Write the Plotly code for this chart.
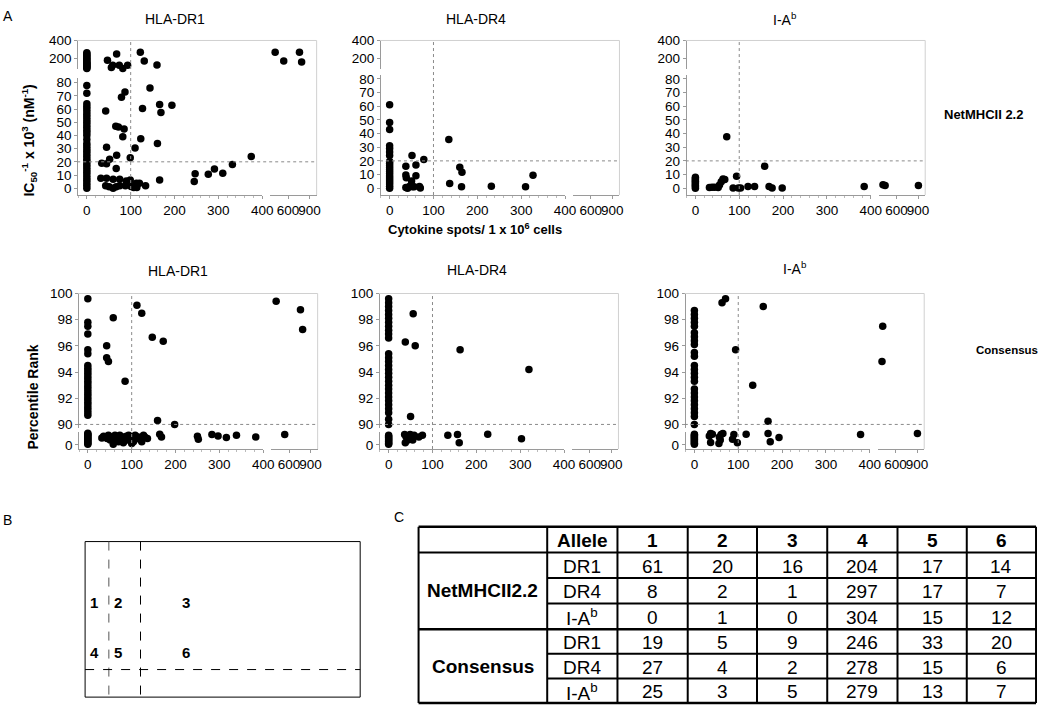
import plotly.graph_objects as go

W, H = 1050, 709
FONT = "Liberation Sans, Arial, sans-serif"

# ---------------- panel A data ----------------
# y values of peptides with 0 cytokine spots, then the remaining (x, y) pairs
NET_DR1_ZERO = [0, 2, 4, 6, 8, 10, 12, 14, 16, 18, 20, 22, 24, 26, 28, 30, 32, 34, 37, 40, 42,
                44, 46, 48, 50, 52, 54, 56, 58, 60, 62, 64, 72, 78,
                90, 100, 110, 120, 130, 140, 150, 160, 175, 190, 205, 220, 235, 250, 265]
NET_DR1_X = [47, 68, 56, 59, 74, 82, 93, 122, 131, 160, 420, 540, 760, 790,
             87, 144, 79, 166, 194, 43, 127, 169, 66, 72, 85, 82, 123, 161, 45, 110, 68, 52, 99,
             34, 45, 67, 32, 45, 60, 75, 90, 99, 113, 120, 166, 43, 51, 60, 67, 75, 88, 101, 107,
             114, 134, 245, 247, 277, 291, 310, 332, 375]
NET_DR1_Y = [181, 252, 101, 127, 127, 92, 127, 270, 173, 130, 270, 173, 270, 162,
             73, 76, 69, 63.5, 63, 58.5, 60.5, 57.5, 47, 46.5, 45, 39, 37.5, 34, 31, 30.5, 25, 22, 23,
             19, 18.5, 15, 7.5, 7.5, 6.75, 6.75, 5.5, 6.25, 3.75, 3.75, 6.25, 1.75, 1, 0, 1, 1.75,
             1.75, 1.25, 0.5, 0.5, 1.75, 5, 11, 10.5, 14.5, 11.25, 18, 24]

NET_DR4_ZERO = [0, 1.5, 3, 4.5, 6, 7.5, 9, 10.5, 12, 13.5, 15, 16.5, 18, 19.5, 24, 26.5, 29, 31, 43, 48, 61]
NET_DR4_X = [135, 51, 78, 37, 60, 160, 165, 37, 38, 60, 50, 45, 37, 56, 68, 70, 137, 164, 232, 310,
             327, 41, 52]
NET_DR4_Y = [35.7, 24, 21, 16, 17, 15.4, 11.6, 9.6, 7.7, 9.2, 5.3, 1.2, 0.5, 1, 1.2, 0.2, 3.4, 1,
             1.4, 1, 9.4, 0, 1]

NET_IAB_ZERO = [0, 1, 2, 3, 4, 5, 6, 7, 8]
NET_IAB_X = [71.5, 158, 94, 63, 67, 59, 55, 52, 32, 38, 44, 86, 98, 103, 120, 135, 168, 175, 198,
             385, 410, 440, 905]
NET_IAB_Y = [37.7, 16, 8.8, 6.7, 6.4, 4.8, 2.4, 0.5, 0.5, 0.7, 0.7, 0.2, 0.2, 0.2, 1.2, 1.2, 1.2,
             0.2, 0.2, 1.2, 2.6, 1.9, 1.9]

CON_DR1_ZERO = [99.6, 97.8, 97.5, 96.9, 95.7, 95.4, 94.5, 94.3, 94.1, 93.9, 93.7, 93.5, 93.3, 93.1,
                92.9, 92.7, 92.5, 92.3, 92.1, 91.9, 91.7, 91.5, 91.3, 91.1, 90.9, 90.7,
                5, 12, 20, 28, 36, 44, 52, 60, 68, 76, 83]
CON_DR1_X = [112, 123, 58, 43, 43, 47, 147, 172, 85, 159, 198, 420, 760, 790,
             32, 39, 47, 51, 58, 66, 70, 73, 80, 85, 90, 95, 98, 104, 108, 115, 119, 123, 127, 130,
             136, 81, 58, 100, 164, 168, 250, 252, 283, 297, 316, 339, 383, 540,
             36, 44, 55, 62, 77, 88, 93, 62, 75]
CON_DR1_Y = [99.1, 98.5, 98.15, 96.0, 95.1, 94.8, 96.65, 96.35, 93.3, 90.3, 90.0, 99.4, 98.75, 97.25,
             50, 57, 69, 34, 45, 38, 22, 69, 57, 45, 34, 62, 45, 22, 69, 57, 38, 22, 69, 57,
             45, 15, 5, 10, 76, 57, 62, 41, 74, 64, 52, 69, 57, 74,
             62, 45, 57, 69, 45, 62, 69, 28, 38]

CON_DR4_ZERO = [99.6, 99.3, 99.0, 98.7, 98.4, 98.1, 97.8, 97.5, 97.2, 96.9, 96.6, 95.4, 95.1, 94.8,
                94.5, 94.2, 93.9, 93.6, 93.3, 93.0, 92.7, 92.4, 92.1, 91.8, 91.5, 91.2, 90.9, 90.4,
                90.0, 5, 12, 20, 28, 36, 44, 52, 60, 68]
CON_DR4_X = [56, 38, 60.6, 163, 320, 50,
             36.5, 40, 38, 44, 49, 51, 55, 58, 69, 77, 135, 157, 226, 161, 303]
CON_DR4_Y = [98.45, 96.3, 96.0, 95.7, 94.2, 90.6,
             74, 57, 15, 34, 74, 45, 34, 69, 57, 69, 69, 74, 76, 15, 43]

CON_IAB_ZERO = [98.7, 98.4, 98.1, 97.8, 97.5, 97.0, 96.7, 96.4, 96.1, 95.5, 95.2, 94.5, 94.2, 93.9,
                93.6, 93.3, 92.7, 92.4, 92.1, 91.8, 91.5, 91.2, 90.9, 90.6, 90.0,
                5, 12, 20, 28, 36, 44, 52, 60, 68, 76]
CON_IAB_X = [63, 71, 157, 94, 133, 168, 420, 410,
             34, 37, 41, 57, 59, 61, 65, 56, 87, 90, 98, 118, 168, 173, 193, 37, 379, 905]
CON_IAB_Y = [99.3, 99.6, 99.0, 95.7, 93.0, 90.25, 97.5, 94.8,
             64, 17, 76, 57, 34, 74, 81, 10, 41, 74, 15, 76, 81, 22, 52, 81, 74, 81]

X_TICKS_MAIN = [0, 100, 200, 300, 400]
X_TICKS_HIGH = [600, 900]
NET_TICKS_LOW = [0, 10, 20, 30, 40, 50, 60, 70, 80]
NET_TICKS_HIGH = [200, 400]
CON_TICKS_LOW = [0]
CON_TICKS_HIGH = [90, 92, 94, 96, 98, 100]

# ---------------- panel C data ----------------
METHODS = ["NetMHCII2.2", "Consensus"]
ALLELES = ["DR1", "DR4", "I-A<sup>b</sup>"]
HEADER = ["Allele", "1", "2", "3", "4", "5", "6"]
NET_COUNTS = [[61, 20, 16, 204, 17, 14], [8, 2, 1, 297, 17, 7], [0, 1, 0, 304, 15, 12]]
CON_COUNTS = [[19, 5, 9, 246, 33, 20], [27, 4, 2, 278, 15, 6], [25, 3, 5, 279, 13, 7]]
REGIONS = ["1", "2", "3", "4", "5", "6"]


def fx(px):
    return px / W


def fy(py):
    return 1 - py / H


def note(text, x, y, size=13, bold=False, angle=0, xanchor="center"):
    if bold:
        text = "<b>" + text + "</b>"
    fig.add_annotation(text=text, x=fx(x), y=fy(y), xref="paper", yref="paper", showarrow=False,
                       xanchor=xanchor, yanchor="middle", textangle=angle,
                       font=dict(family=FONT, size=size, color="black"))


def line(x0, y0, x1, y1, color="black", width=1, dash="solid"):
    fig.add_shape(type="line", xref="paper", yref="paper", x0=fx(x0), y0=fy(y0), x1=fx(x1), y1=fy(y1),
                  line=dict(color=color, width=width, dash=dash))


def ref(letter, n):
    return letter if n == 1 else "%s%d" % (letter, n)


fig = go.Figure()

top = dict(axis_y=191, up=(34, 63, [85, 400]), up_ticks=NET_TICKS_HIGH, low_ticks=NET_TICKS_LOW,
           ybreak=85, thresh=20)
bottom = dict(axis_y=449, up=(291, 428, [89.7, 100]), low=(432, 449, [-30, 90]),
              up_ticks=CON_TICKS_HIGH, low_ticks=CON_TICKS_LOW, ybreak=89.7, thresh=90)

panels = [
    dict(top, left=78, title="HLA-DR1", title_x=177, title_y=12, low=(72, 191, [-5.2, 83.7]),
         zero=NET_DR1_ZERO, xs=NET_DR1_X, ys=NET_DR1_Y),
    dict(top, left=384, title="HLA-DR4", title_x=481, title_y=12, low=(69, 191, [-5, 82.9]),
         zero=NET_DR4_ZERO, xs=NET_DR4_X, ys=NET_DR4_Y),
    dict(top, left=693, title="I-A<sup>b</sup>", title_x=793, title_y=12, low=(69, 191, [-5, 82.9]),
         zero=NET_IAB_ZERO, xs=NET_IAB_X, ys=NET_IAB_Y),
    dict(bottom, left=79, title="HLA-DR1", title_x=180, title_y=268,
         zero=CON_DR1_ZERO, xs=CON_DR1_X, ys=CON_DR1_Y),
    dict(bottom, left=383, title="HLA-DR4", title_x=482, title_y=267,
         zero=CON_DR4_ZERO, xs=CON_DR4_X, ys=CON_DR4_Y),
    dict(bottom, left=692, title="I-A<sup>b</sup>", title_x=803, title_y=265,
         zero=CON_IAB_ZERO, xs=CON_IAB_X, ys=CON_IAB_Y),
]

axis_style = dict(showgrid=False, zeroline=False, showline=True, linecolor="#9a9a9a", linewidth=1,
                  ticks="outside", ticklen=3, tickcolor="#9a9a9a", tickmode="array", tickangle=0,
                  tickfont=dict(family=FONT, size=13.5, color="black"), anchor="free")
X_BREAK = 400

for i, p in enumerate(panels):
    xa, xb, ya, yb = 2 * i + 1, 2 * i + 2, 2 * i + 1, 2 * i + 2
    L = p["left"]
    lo_top, lo_bot, lo_rng = p["low"]
    up_top, up_bot, up_rng = p["up"]
    minor_x = dict(ticks="outside", ticklen=2, tickcolor="#bbbbbb", dtick=20, tick0=0)
    fig.layout["xaxis%d" % xa] = dict(axis_style, domain=[fx(L), fx(L + 187)], range=[-22, X_BREAK],
                                       tickvals=X_TICKS_MAIN, position=fy(p["axis_y"]), minor=minor_x)
    fig.layout["xaxis%d" % xb] = dict(axis_style, domain=[fx(L + 195), fx(L + 242)], range=[350, 1000],
                                       tickvals=X_TICKS_HIGH, position=fy(p["axis_y"]))
    fig.layout["yaxis%d" % ya] = dict(axis_style, domain=[fy(lo_bot), fy(lo_top)], range=lo_rng,
                                       tickvals=p["low_ticks"], position=fx(L))
    fig.layout["yaxis%d" % yb] = dict(axis_style, domain=[fy(up_bot), fy(up_top)], range=up_rng,
                                       tickvals=p["up_ticks"], position=fx(L))

    # split points over the broken axes (every combination gets a trace so all axes are drawn)
    groups = {(gx, gy): ([], []) for gx in (xa, xb) for gy in (ya, yb)}
    xs = [0] * len(p["zero"]) + p["xs"]
    ys = p["zero"] + p["ys"]
    for x, y in zip(xs, ys):
        key = (xb if x > X_BREAK else xa, yb if y >= p["ybreak"] else ya)
        groups[key][0].append(x)
        groups[key][1].append(y)
    for (gx, gy), (px_, py_) in groups.items():
        fig.add_trace(go.Scatter(x=px_, y=py_, mode="markers", cliponaxis=False, showlegend=False,
                                 xaxis=ref("x", gx), yaxis=ref("y", gy),
                                 marker=dict(color="black", size=7.5, line=dict(width=0))))

    # threshold lines
    fig.add_shape(type="line", xref=ref("x", xa), yref="paper", x0=100, x1=100,
                  y0=fy(p["axis_y"]), y1=fy(up_top), line=dict(color="#8a8a8a", width=1, dash="dot"))
    thr_ref = ref("y", ya if p["thresh"] < p["ybreak"] else yb)
    fig.add_shape(type="line", xref="paper", yref=thr_ref, x0=fx(L), x1=fx(L + 242),
                  y0=p["thresh"], y1=p["thresh"], line=dict(color="#8a8a8a", width=1, dash="dot"))
    # light frame
    line(L, up_top, L + 242, up_top, color="#d0d0d0")
    line(L + 242, up_top, L + 242, p["axis_y"], color="#d0d0d0")

    note(p["title"], p["title_x"], p["title_y"], size=14)

note("A", 1, 9, size=14, xanchor="left")
note("IC<sub>50</sub><sup>-1</sup> x 10<sup>3</sup> (nM<sup>-1</sup>)", 29, 136, size=14, bold=True, angle=-90)
note("Percentile Rank", 33, 396, size=14, bold=True, angle=-90)
note("Cytokine spots/ 1 x 10<sup>6</sup> cells", 480, 225, size=13, bold=True)
note("NetMHCII 2.2", 994, 109, size=13, bold=True)
note("Consensus", 1018, 348, size=11.5, bold=True)

# ---------------- panel B ----------------
note("B", 1, 521, size=14, xanchor="left")
fig.add_shape(type="rect", xref="paper", yref="paper", x0=fx(86), x1=fx(364), y0=fy(701), y1=fy(543),
              line=dict(color="black", width=1))
line(110, 543, 110, 701, color="#555555", dash="dash")
line(142, 543, 142, 701, color="black", dash="dash")
line(86, 673, 364, 673, color="black", dash="dash")
for k, r in enumerate(REGIONS):
    note(r, [95, 119, 188][k % 3], [605, 656][k // 3], size=15, bold=True)

# ---------------- panel C ----------------
note("C", 396, 518, size=14, xanchor="left")
COLS = [423, 553, 624, 695, 765, 836, 907, 977, 1047]
ROWS = [528, 554, 580, 606, 632, 657, 682, 707]
for c in COLS:
    line(c, ROWS[0], c, ROWS[-1], width=2)
for r_i, r in enumerate(ROWS):
    x0 = COLS[0] if r_i in (0, 1, 4, 7) else COLS[1]
    line(x0, r, COLS[-1], r, width=2.5 if r_i in (0, 4, 7) else 2)

for j, h in enumerate(HEADER):
    note(h, (COLS[j + 1] + COLS[j + 2]) / 2, (ROWS[0] + ROWS[1]) / 2 + 1, size=19, bold=True)
for g, (method, counts) in enumerate(zip(METHODS, [NET_COUNTS, CON_COUNTS])):
    note(method, (COLS[0] + COLS[1]) / 2, (ROWS[1 + 3 * g] + ROWS[4 + 3 * g]) / 2, size=19, bold=True)
    for r in range(3):
        ry = (ROWS[1 + 3 * g + r] + ROWS[2 + 3 * g + r]) / 2 + 1
        note(ALLELES[r], (COLS[1] + COLS[2]) / 2, ry, size=19)
        for c, v in enumerate(counts[r]):
            note(str(v), (COLS[c + 2] + COLS[c + 3]) / 2, ry, size=19)

fig.update_layout(width=W, height=H, margin=dict(l=0, r=0, t=0, b=0), plot_bgcolor="white",
                  paper_bgcolor="white", font=dict(family=FONT, color="black"))
# drop the browser's default page margin so the figure sits at the window origin
fig.write_html("out.html", config={"displayModeBar": False},
               post_script="document.body.style.margin='0';document.body.style.overflow='hidden';")
